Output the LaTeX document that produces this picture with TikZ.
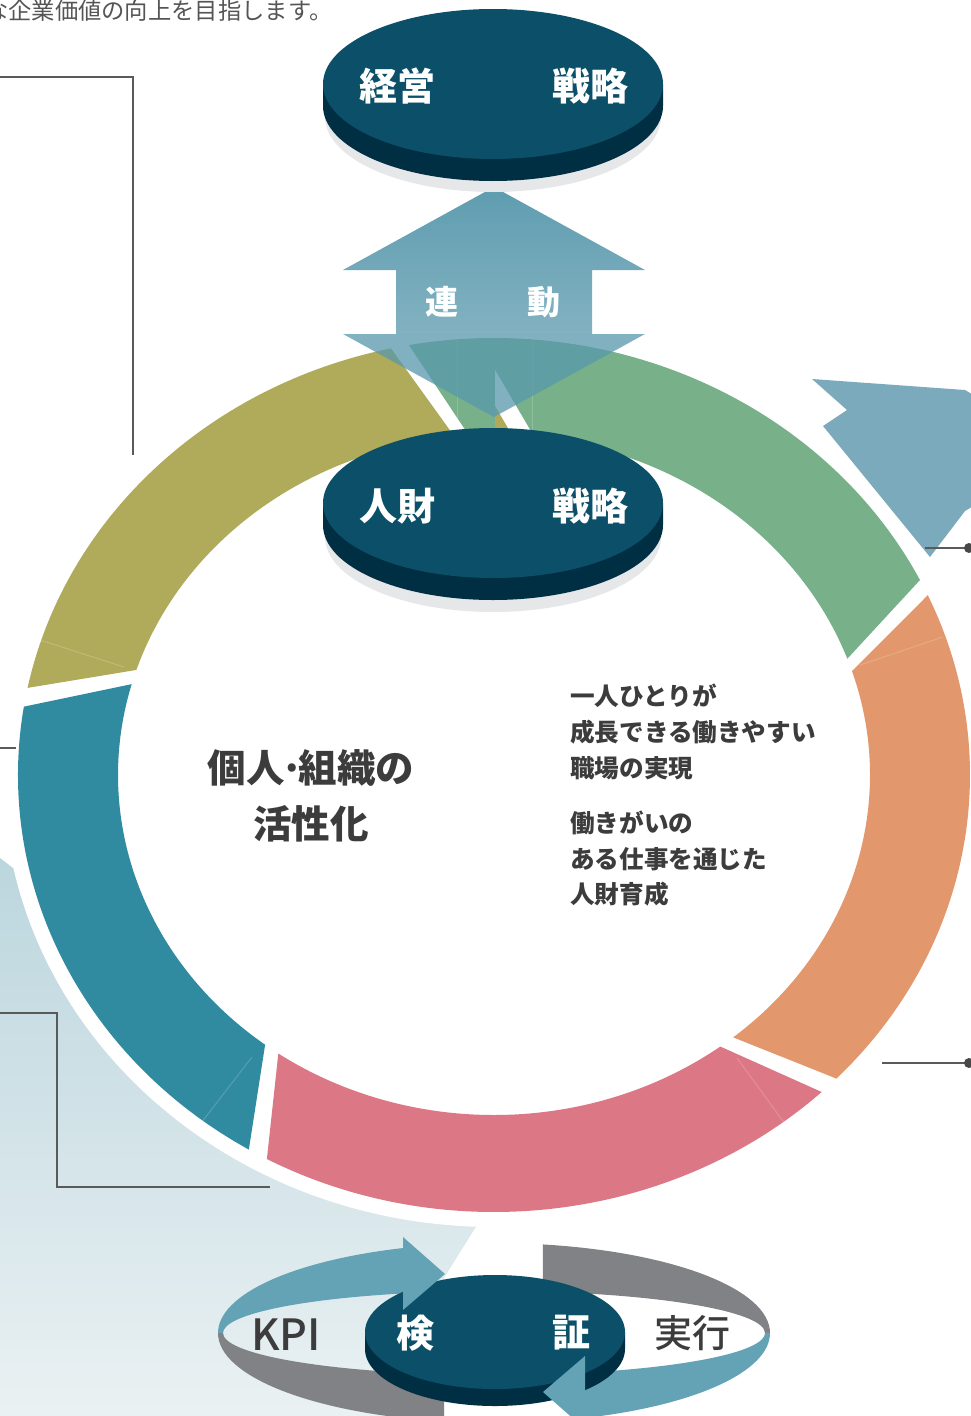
\documentclass[tikz,border=0pt]{standalone}
\usepackage{fontspec}
\newfontfamily\jp{Noto Sans CJK JP}
\newfontfamily\jpm{Noto Sans CJK JP}[UprightFont=* Medium]
\usetikzlibrary{calc}
\definecolor{cOlive}{RGB}{176,171,90}
\definecolor{cGreen}{RGB}{119,176,137}
\definecolor{cOrange}{RGB}{226,152,108}
\definecolor{cPink}{RGB}{220,119,133}
\definecolor{cTeal}{RGB}{49,139,160}
\definecolor{cFace}{RGB}{11,80,104}
\definecolor{cSide}{RGB}{0,46,67}
\definecolor{cShadow}{RGB}{230,231,233}
\definecolor{cRibBlue}{RGB}{100,162,181}
\definecolor{cRibGray}{RGB}{129,130,134}
\definecolor{cArrTop}{RGB}{95,156,176}
\definecolor{cArrBot}{RGB}{130,178,193}
\definecolor{cArrDown}{RGB}{88,152,172}
\definecolor{cSideArrow}{RGB}{122,170,187}
\definecolor{cLightA}{RGB}{188,214,222}
\definecolor{cLightB}{RGB}{234,241,243}
\definecolor{cText}{RGB}{60,60,60}
\definecolor{cLead}{RGB}{85,85,85}
\definecolor{cLine}{RGB}{90,90,90}
\newcommand\ringseg[3]{%
  \fill[#1] ($(c)+(#2:476 and 437)$) arc[start angle=#2, end angle=#3, x radius=476, y radius=437]
    -- ($(c)+({#3-6.5}:376 and 340)$) arc[start angle={#3-6.5}, end angle={#2-6.5}, x radius=376, y radius=340] -- cycle;}
\tikzset{
  wtext/.style={inner sep=0, text=white, font=\jp\bfseries\fontsize{38}{38}\selectfont},
  ctext/.style={inner sep=0, text=cText, font=\jp\bfseries\fontsize{38.5}{38.5}\selectfont},
  rtext/.style={inner sep=0, anchor=west, text=cText, font=\jp\bfseries\fontsize{24.6}{24.6}\selectfont},
  dtext/.style={inner sep=0, text=cText, font=\jpm\fontsize{38}{38}\selectfont},
  leader/.style={draw=cLine, line width=1.4},
  seam/.style={line width=1, draw=white, opacity=0.18},
}
\begin{document}
\begin{tikzpicture}[x=1pt,y=1pt]
\useasboundingbox (0,0) rectangle (971,-1416);
\clip (0,0) rectangle (971,-1416);
\coordinate (c) at (494,-775);
\coordinate (r) at (494,-1333);

% light background region (lower left)
\shade[shading angle=-45, top color=cLightA, bottom color=cLightB]
  (0,-858) -- (477,-1225) -- (444,-1278) -- (444,-1416) -- (0,-1416) -- cycle;
% white margin around the ring
\fill[white] (c) ellipse[x radius=491, y radius=452];

% right-hand arrow
\fill[cSideArrow] (812,-379) -- (965,-390) -- (975,-396) -- (975,-505) -- (965,-511)
  -- (930,-557) -- (823,-426) -- (847,-410) -- cycle;

% ring segments
\ringseg{cOlive}{102.5}{168.5}
\ringseg{cTeal}{171}{239}
\ringseg{cPink}{241.5}{313.5}
\ringseg{cOrange}{316}{384.3}
\ringseg{cGreen}{386.5}{460.3}
% seams
\draw[seam] (40,-640) -- (124,-667);
\draw[seam] (252,-1057) -- (198,-1127);
\draw[seam] (737,-1058) -- (788,-1128);
\draw[seam] (860,-665) -- (943,-637);
\draw[seam] (457,-338) -- (457,-432);
\draw[seam] (532,-338) -- (532,-432);
% small wedge near the top
\fill[white] (495,-370) -- (495,-440) -- (536,-440) -- cycle;
\fill[cOlive] (495,-406) -- (495,-440) -- (515,-440) -- cycle;

% linkage arrow
\shade[top color=cArrTop, bottom color=cArrBot]
  (494,-187) -- (645,-270) -- (592,-270) -- (592,-334) -- (396,-334) -- (396,-270) -- (343,-270) -- cycle;
\fill[cArrDown, fill opacity=0.75] (343,-334) -- (645,-334) -- (494,-417) -- cycle;
\node[inner sep=0, text=white, font=\jp\bfseries\fontsize{33}{33}\selectfont] (ren) at (442,-302) {連};
\node[inner sep=0, text=white, font=\jp\bfseries\fontsize{33}{33}\selectfont] (dou) at (544,-302) {動};

% management strategy disc
\fill[cShadow] (493,-117) ellipse[x radius=168, y radius=75];
\fill[cSide] (323,-84) -- (323,-106) arc[start angle=180, end angle=360, x radius=170, y radius=75] -- (663,-84) -- cycle;
\fill[cFace] (493,-84) ellipse[x radius=170, y radius=75];
\node[wtext] (kei) at (397,-86) {経営};
\node[wtext] (sen1) at (590,-86) {戦略};

% HR strategy disc
\fill[cShadow] (493,-537) ellipse[x radius=168, y radius=75];
\fill[cSide] (323,-503) -- (323,-525) arc[start angle=180, end angle=360, x radius=170, y radius=75] -- (663,-503) -- cycle;
\fill[cFace] (493,-503) ellipse[x radius=170, y radius=75];
\node[wtext] (jin) at (397,-506) {人財};
\node[wtext] (sen2) at (590,-506) {戦略};

% centre texts
\node[ctext] (kojin) at (311,-768) {個人\kern-0.12em·\kern-0.12em組織の};
\node[ctext] (kasei) at (311,-824) {活性化};
\node[rtext] (r1) at (570,-696) {一人ひとりが};
\node[rtext] (r2) at (570,-732) {成長できる働きやすい};
\node[rtext] (r3) at (570,-768) {職場の実現};
\node[rtext] (r4) at (570,-823) {働きがいの};
\node[rtext] (r5) at (570,-859) {ある仕事を通じた};
\node[rtext] (r6) at (570,-894) {人財育成};

% cycle ribbons around the verification disc
\fill[cRibBlue] ($(r)+(180:276 and 90)$) arc[start angle=180, end angle=109.3, x radius=276, y radius=90]
  -- ($(r)+(109.6:271 and 42)$) arc[start angle=109.6, end angle=180, x radius=271, y radius=42] -- cycle;
\fill[cRibGray] ($(r)+(79.8:276 and 90)$) arc[start angle=79.8, end angle=0, x radius=276, y radius=90]
  -- ($(r)+(0:271 and 42)$) arc[start angle=0, end angle=79.6, x radius=271, y radius=42] -- cycle;
\fill[cRibBlue] ($(r)+(0:276 and 90)$) arc[start angle=0, end angle=-70.75, x radius=276, y radius=90]
  -- ($(r)+(-70.4:271 and 42)$) arc[start angle=-70.4, end angle=0, x radius=271, y radius=42] -- cycle;
\fill[cRibGray] ($(r)+(180:276 and 90)$) arc[start angle=180, end angle=259.6, x radius=276, y radius=90]
  -- ($(r)+(259.4:271 and 42)$) arc[start angle=259.4, end angle=180, x radius=271, y radius=42] -- cycle;

% verification disc
\fill[cShadow] (495,-1346) ellipse[x radius=128, y radius=58];
\fill[cSide] (365,-1332) -- (365,-1349) arc[start angle=180, end angle=360, x radius=130, y radius=57] -- (625,-1332) -- cycle;
\fill[cFace] (495,-1332) ellipse[x radius=130, y radius=57];
\node[wtext] (ken) at (415,-1333) {検};
\node[wtext] (sho) at (571,-1333) {証};

% arrow heads of the cycle
\fill[cRibBlue] (403,-1237) -- (445,-1274) -- (403,-1310) -- cycle;
\fill[cRibBlue] (585,-1429) -- (543,-1392) -- (585,-1356) -- cycle;

\node[inner sep=0, text=cText, font=\jpm\fontsize{43}{43}\selectfont] (kpi) at (286,-1335) {KPI};
\node[dtext] (jikko) at (692,-1333) {実行};

% leader lines
\coordinate (a1) at (0,-77);
\coordinate (a2) at (133,-77);
\coordinate (a3) at (133,-455);
\draw[leader] (a1) -- (a2) -- (a3);
\coordinate (b1) at (0,-748);
\coordinate (b2) at (16,-748);
\draw[leader] (b1) -- (b2);
\coordinate (d1) at (0,-1013);
\coordinate (d2) at (57,-1013);
\coordinate (d3) at (57,-1187);
\coordinate (d4) at (270,-1187);
\draw[leader] (d1) -- (d2) -- (d3) -- (d4);
\coordinate (e1) at (925,-548);
\coordinate (e2) at (969,-548);
\draw[leader] (e1) -- (e2);
\fill[cLine!80!black] (e2) circle[radius=5];
\coordinate (f1) at (882,-1063);
\coordinate (f2) at (969,-1063);
\draw[leader] (f1) -- (f2);
\fill[cLine!80!black] (f2) circle[radius=5];

% lead sentence
\node[anchor=west, inner sep=0, text=cLead, font=\jp\fontsize{23.3}{23.3}\selectfont] (lead) at (-15,-11) {な企業価値の向上を目指します。};
\end{tikzpicture}
\end{document}
